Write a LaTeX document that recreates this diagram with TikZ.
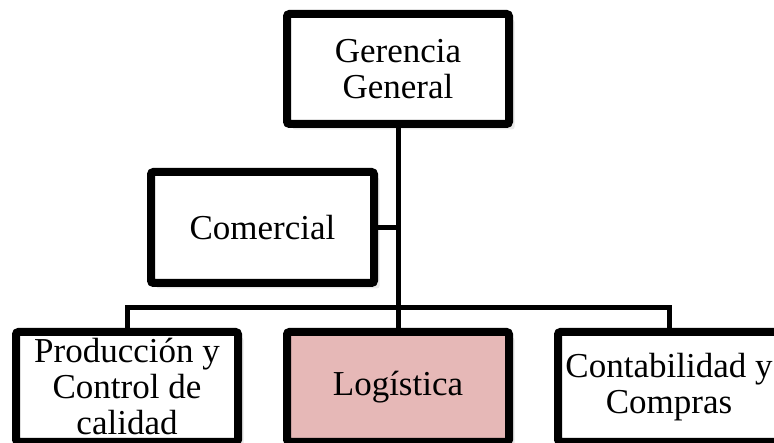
\documentclass[tikz,border=0pt]{standalone}
\usepackage{fontspec}
\setmainfont{Liberation Serif}
\usepackage[table]{xcolor}
\usetikzlibrary{shadows}
\definecolor{rosa}{HTML}{E6B8B7}

\begin{document}
\begin{tikzpicture}[x=1pt,y=1pt,
  caja/.style={draw, line width=8pt, rounded corners=2.5pt, fill=white,
    minimum width=222pt, minimum height=110pt, inner sep=0pt, align=center,
    font=\fontsize{35}{36}\selectfont,
    drop shadow={opacity=0.18, shadow xshift=5.5pt, shadow yshift=-5.5pt}},
  linea/.style={line width=5pt}]
\useasboundingbox (0,0) rectangle (774,443);
\node[caja] (gerencia) at (398,374) {Gerencia\\General};
\node[caja, minimum width=223pt, minimum height=111pt] (comercial) at (262.5,215.5) {Comercial};
\node[caja] (produccion) at (127,56) {Producción y\\Control de\\calidad};
\node[caja, fill=rosa] (logistica) at (398,56) {Logística};
\node[caja] (contabilidad) at (669,56) {Contabilidad y\\Compras};
\coordinate (bus) at (398,135);
\draw[linea] (gerencia.south) -- (logistica.north);
\draw[linea] (comercial.east) -- (comercial.east -| gerencia.south);
\draw[linea] (produccion.north) |- (bus) -| (contabilidad.north);
\end{tikzpicture}
\end{document}
